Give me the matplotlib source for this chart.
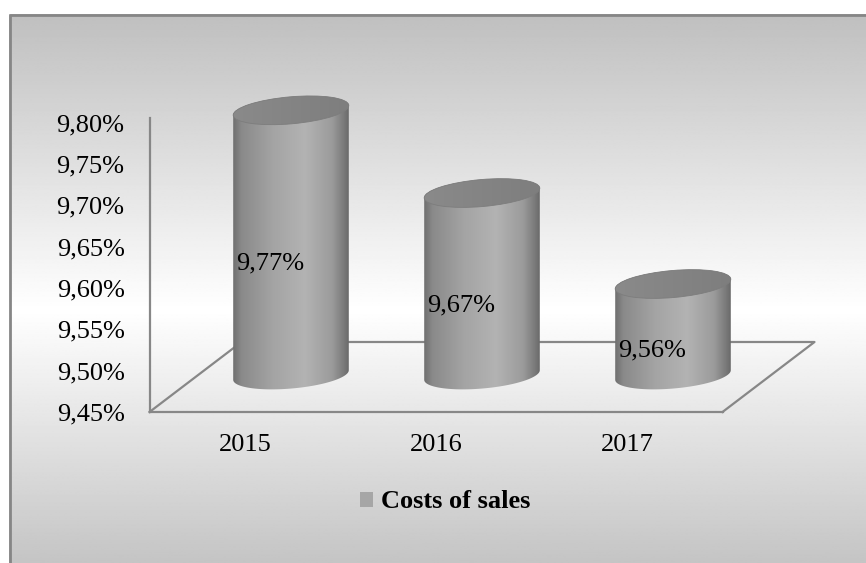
import matplotlib
matplotlib.use('Agg')
import matplotlib.pyplot as plt
import matplotlib.transforms as mtransforms
from matplotlib.patches import Ellipse, Polygon, Patch
from matplotlib.colors import LinearSegmentedColormap
import numpy as np

# data
years = ['2015', '2016', '2017']
cost_share = [9.77, 9.67, 9.56]
value_labels = ['9,77%', '9,67%', '9,56%']
series_name = 'Costs of sales'
y_ticks = [9.45, 9.50, 9.55, 9.60, 9.65, 9.70, 9.75, 9.80]
y_tick_labels = ['9,45%', '9,50%', '9,55%', '9,60%', '9,65%', '9,70%', '9,75%', '9,80%']

plt.rcParams['font.family'] = ['Liberation Serif', 'DejaVu Serif']
FS = 19
W, H = 866, 563
DEPTH = (92, 70)       # floor depth in pixels (x right, y up)
CYL_OFF = (46, 37)     # cylinders sit half way into the floor
A, B, THETA = 58, 13.5, 5.0   # cylinder ellipse semi-axes (px) and tilt

fig = plt.figure(figsize=(W / 100, H / 100), dpi=100)

# background panel with vertical grey-white-grey gradient
bg = fig.add_axes([0, 0, 1, 1])
rows = np.linspace(14, H, 400)
shade = np.interp(rows, [14, 310, H], [0.75, 1.0, 0.77])
bg.imshow(np.repeat(shade[:, None], 2, axis=1), cmap='gray', vmin=0, vmax=1,
          extent=(9, W, H, 14), aspect='auto', interpolation='bilinear')
bg.plot([9.5, 9.5, W], [H, 14.5, 14.5], color='#868686', lw=2)
bg.set_xlim(0, W)
bg.set_ylim(H, 0)
bg.axis('off')

# main axes: front plane of the 3d plot
ax = fig.add_axes([149.5 / W, (H - 412) / H, 573 / W, (412 - 122.5) / H])
ax.set_facecolor('none')
ax.set_autoscale_on(False)
ymin, ymax = 9.45, 9.80
ax.set_xlim(-0.5, 2.5)
ax.set_ylim(ymin, ymax)

for s in ['top', 'right']:
    ax.spines[s].set_visible(False)
for s in ['left', 'bottom']:
    ax.spines[s].set_color('#878787')
    ax.spines[s].set_linewidth(1.6)
ax.spines['left'].set_bounds(ymin, ymax + 0.006)

ax.set_yticks(y_ticks, labels=y_tick_labels)
ax.set_xticks(range(len(years)), labels=years)
ax.tick_params(axis='y', length=0, pad=18, labelsize=FS)
ax.tick_params(axis='x', length=0, pad=16, labelsize=FS)

# floor outline (back edge and sides)
p0 = ax.transData.transform((-0.5, ymin))
p1 = ax.transData.inverted().transform(p0 + np.array(DEPTH))
ddx, ddy = p1[0] + 0.5, p1[1] - ymin
ax.plot([-0.5, -0.5 + ddx, 2.5 + ddx, 2.5], [ymin, ymin + ddy, ymin + ddy, ymin],
        color='#878787', lw=1.6, clip_on=False, zorder=1)

cyl_cmap = LinearSegmentedColormap.from_list('cyl', [
    (0.0, '#6c6c6c'), (0.08, '#8a8a8a'), (0.35, '#a4a4a4'), (0.62, '#b3b3b3'),
    (0.85, '#9b9b9b'), (0.95, '#7a7a7a'), (1.0, '#666666')])
top_cmap = LinearSegmentedColormap.from_list('top', ['#8a8a8a', '#7e7e7e'])

th = np.deg2rad(THETA)
t = np.linspace(0, 2 * np.pi, 500)
ex = A * np.cos(t) * np.cos(th) - B * np.sin(t) * np.sin(th)
ey = A * np.cos(t) * np.sin(th) + B * np.sin(t) * np.cos(th)
ny = np.sin(th) * np.cos(t) / A + np.cos(th) * np.sin(t) / B

for i, v in enumerate(cost_share):
    base = ax.transData.transform((i, ymin))
    top = ax.transData.transform((i, v))
    h = top[1] - base[1]
    loc = mtransforms.Affine2D().translate(base[0] + CYL_OFF[0], base[1] + CYL_OFF[1])

    sil = Polygon(np.column_stack([ex, ey + np.where(ny >= 0, h, 0)]), closed=True,
                  transform=loc, facecolor='none', edgecolor='none', zorder=3)
    ax.add_patch(sil)
    im = ax.imshow(np.linspace(0, 1, 256)[None, :], cmap=cyl_cmap, vmin=0, vmax=1,
                   extent=(-A - 1, A + 1, -B - 5, h + B + 5), transform=loc,
                   aspect='auto', interpolation='bilinear', zorder=3)
    im.set_clip_box(fig.bbox)
    im.set_clip_path(sil)

    cap = Ellipse((0, h), 2 * A, 2 * B, angle=THETA, transform=loc,
                  facecolor='none', edgecolor='#7d7d7d', lw=0.6, zorder=4.5, clip_on=False)
    ax.add_patch(cap)
    cim = ax.imshow(np.linspace(0, 1, 64)[None, :], cmap=top_cmap, vmin=0, vmax=1,
                    extent=(-A - 1, A + 1, h - B - 6, h + B + 6), transform=loc,
                    aspect='auto', interpolation='bilinear', zorder=4)
    cim.set_clip_box(fig.bbox)
    cim.set_clip_path(cap)

    ax.text(i, (ymin + v) / 2, value_labels[i], fontsize=FS, ha='center', va='center',
            transform=ax.transData + mtransforms.ScaledTranslation(0.25, 0.16, fig.dpi_scale_trans),
            zorder=6)

ax.set_xlim(-0.5, 2.5)
ax.set_ylim(ymin, ymax)

fig.legend(handles=[Patch(facecolor='#a6a6a6', edgecolor='none', label=series_name)],
           loc='center', bbox_to_anchor=(445.5 / W, (H - 502) / H), frameon=False,
           prop={'weight': 'bold', 'size': FS}, handlelength=0.5, handleheight=0.5,
           handletextpad=0.3)

fig.savefig('out.png', dpi=100)
